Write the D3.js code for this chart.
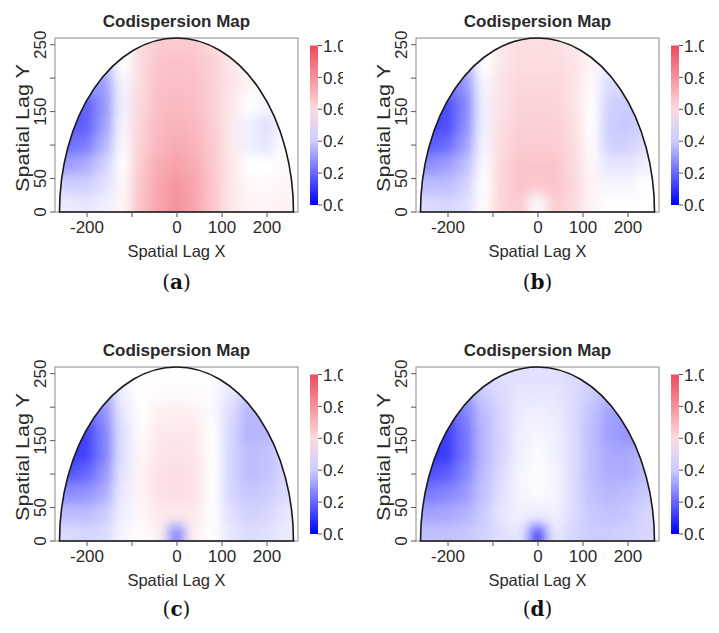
<!DOCTYPE html>
<html>
<head>
<meta charset="utf-8">
<script src="https://d3js.org/d3.v7.min.js"></script>
<style>
    body { margin: 0; background: #fff; }
    svg text { font-family: "Liberation Sans", Arial, sans-serif; fill: #2a2a2a; }
    .caption { font-family: "DejaVu Serif", serif; font-size: 20px; fill: #111; }
</style>
</head>
<body>
<svg id="fig" width="719" height="633"></svg>
<script>
// grid of codispersion estimates, rows from top (lag y = 250) to bottom (lag y = 10)
const lagX = [-240, -200, -160, -120, -80, -40, 0, 40, 80, 120, 160, 200, 240]
const lagY = [250, 220, 190, 160, 130, 100, 70, 40, 10]

const codispA = [
    [0.45, 0.45, 0.45, 0.50, 0.60, 0.64, 0.65, 0.64, 0.61, 0.56, 0.55, 0.55, 0.55],
    [0.35, 0.34, 0.37, 0.50, 0.60, 0.66, 0.67, 0.66, 0.63, 0.57, 0.54, 0.54, 0.54],
    [0.28, 0.28, 0.31, 0.48, 0.60, 0.67, 0.68, 0.67, 0.63, 0.58, 0.53, 0.52, 0.52],
    [0.19, 0.19, 0.29, 0.47, 0.61, 0.68, 0.69, 0.68, 0.63, 0.57, 0.50, 0.48, 0.50],
    [0.17, 0.19, 0.31, 0.48, 0.62, 0.69, 0.71, 0.69, 0.64, 0.56, 0.47, 0.44, 0.48],
    [0.22, 0.24, 0.35, 0.49, 0.63, 0.70, 0.73, 0.71, 0.65, 0.56, 0.47, 0.45, 0.50],
    [0.31, 0.34, 0.41, 0.50, 0.65, 0.73, 0.76, 0.73, 0.65, 0.57, 0.50, 0.50, 0.52],
    [0.41, 0.41, 0.44, 0.52, 0.66, 0.75, 0.79, 0.75, 0.66, 0.57, 0.52, 0.52, 0.53],
    [0.46, 0.45, 0.47, 0.53, 0.67, 0.75, 0.80, 0.75, 0.66, 0.57, 0.53, 0.53, 0.54]
]
const codispB = [
    [0.45, 0.45, 0.45, 0.50, 0.57, 0.59, 0.59, 0.59, 0.57, 0.53, 0.50, 0.48, 0.48],
    [0.31, 0.31, 0.35, 0.50, 0.57, 0.60, 0.60, 0.60, 0.58, 0.53, 0.47, 0.45, 0.45],
    [0.23, 0.23, 0.29, 0.48, 0.58, 0.61, 0.61, 0.61, 0.58, 0.51, 0.43, 0.42, 0.43],
    [0.15, 0.15, 0.26, 0.47, 0.58, 0.62, 0.62, 0.62, 0.58, 0.50, 0.41, 0.40, 0.42],
    [0.14, 0.15, 0.27, 0.47, 0.59, 0.63, 0.63, 0.63, 0.59, 0.50, 0.40, 0.39, 0.42],
    [0.18, 0.21, 0.31, 0.48, 0.60, 0.64, 0.64, 0.64, 0.60, 0.51, 0.41, 0.41, 0.44],
    [0.28, 0.31, 0.37, 0.49, 0.61, 0.66, 0.66, 0.66, 0.60, 0.52, 0.45, 0.45, 0.47],
    [0.37, 0.37, 0.41, 0.50, 0.62, 0.66, 0.65, 0.66, 0.61, 0.53, 0.48, 0.48, 0.50],
    [0.43, 0.42, 0.44, 0.51, 0.62, 0.64, 0.49, 0.64, 0.60, 0.53, 0.50, 0.50, 0.50]
]
const codispC = [
    [0.45, 0.45, 0.45, 0.48, 0.50, 0.50, 0.50, 0.50, 0.50, 0.48, 0.46, 0.45, 0.45],
    [0.28, 0.28, 0.34, 0.47, 0.50, 0.51, 0.52, 0.51, 0.49, 0.45, 0.40, 0.40, 0.40],
    [0.19, 0.19, 0.28, 0.45, 0.50, 0.54, 0.55, 0.54, 0.49, 0.43, 0.36, 0.36, 0.38],
    [0.12, 0.13, 0.25, 0.44, 0.51, 0.56, 0.57, 0.56, 0.50, 0.42, 0.35, 0.36, 0.40],
    [0.11, 0.13, 0.25, 0.44, 0.52, 0.57, 0.58, 0.57, 0.50, 0.42, 0.37, 0.38, 0.42],
    [0.17, 0.20, 0.29, 0.45, 0.53, 0.58, 0.59, 0.58, 0.50, 0.42, 0.37, 0.38, 0.42],
    [0.28, 0.29, 0.34, 0.46, 0.53, 0.58, 0.59, 0.58, 0.50, 0.42, 0.39, 0.40, 0.43],
    [0.37, 0.37, 0.40, 0.47, 0.52, 0.56, 0.56, 0.56, 0.50, 0.44, 0.41, 0.42, 0.45],
    [0.43, 0.42, 0.43, 0.48, 0.51, 0.54, 0.26, 0.54, 0.50, 0.45, 0.43, 0.44, 0.46]
]
const codispD = [
    [0.40, 0.40, 0.40, 0.42, 0.44, 0.44, 0.44, 0.44, 0.43, 0.42, 0.40, 0.40, 0.40],
    [0.26, 0.26, 0.31, 0.40, 0.43, 0.45, 0.45, 0.45, 0.43, 0.40, 0.36, 0.36, 0.36],
    [0.17, 0.17, 0.25, 0.37, 0.42, 0.46, 0.47, 0.46, 0.43, 0.38, 0.32, 0.30, 0.32],
    [0.11, 0.12, 0.23, 0.36, 0.42, 0.47, 0.48, 0.47, 0.43, 0.37, 0.31, 0.29, 0.33],
    [0.10, 0.12, 0.23, 0.36, 0.42, 0.47, 0.49, 0.47, 0.43, 0.37, 0.33, 0.33, 0.36],
    [0.16, 0.18, 0.26, 0.37, 0.43, 0.48, 0.49, 0.48, 0.43, 0.37, 0.34, 0.34, 0.37],
    [0.24, 0.26, 0.30, 0.38, 0.44, 0.48, 0.49, 0.48, 0.43, 0.38, 0.36, 0.37, 0.40],
    [0.32, 0.33, 0.35, 0.40, 0.45, 0.47, 0.46, 0.47, 0.43, 0.39, 0.38, 0.39, 0.42],
    [0.38, 0.38, 0.39, 0.41, 0.44, 0.45, 0.12, 0.45, 0.42, 0.40, 0.40, 0.41, 0.42]
]

const panelData = [codispA, codispB, codispC, codispD]
const captionLetters = ['a', 'b', 'c', 'd']

const xTicks = [-200, -100, 0, 100, 200]
const xTickLabels = ['-200', '', '0', '100', '200']
const yTicks = [0, 50, 100, 150, 200, 250]
const yTickLabels = ['0', '50', '', '150', '', '250']
const colorTicks = [0, 0.2, 0.4, 0.6, 0.8, 1.0]
const colorTickLabels = ['0.0', '0.2', '0.4', '0.6', '0.8', '1.0']

const lagRadius = 260
const cellW = 40, cellH = 30

// panel layout (same for all four, shifted by offsets)
const offsets = [[0, 0], [361, 0], [0, 329], [361, 329]]
const captionY = [289, 289, 616, 616]

const x = d3.scaleLinear().domain([-270, 270]).range([55, 298])
const y = d3.scaleLinear().domain([0, 260]).range([212, 38])
const cbY = d3.scaleLinear().domain([0, 1]).range([205, 45.5])
const color = d3.scaleLinear().domain([0, 0.5, 1]).range(['#0000ff', '#ffffff', '#f04a5a'])

const svg = d3.select('#fig')
const defs = svg.append('defs')

const semi = `M${x(-lagRadius)},${y(0)} A${x(lagRadius) - x(0)},${y(0) - y(lagRadius)} 0 0 1 ${x(lagRadius)},${y(0)} Z`

defs.append('clipPath').attr('id', 'semi').append('path').attr('d', semi)
defs.append('clipPath').attr('id', 'crop').append('rect')
    .attr('x', 0).attr('y', 0).attr('width', 343).attr('height', 300)

defs.append('filter').attr('id', 'soft')
    .attr('filterUnits', 'userSpaceOnUse')
    .attr('x', 0).attr('y', 0).attr('width', 360).attr('height', 280)
    .append('feGaussianBlur').attr('stdDeviation', 6)

const grad = defs.append('linearGradient').attr('id', 'cbgrad')
    .attr('x1', 0).attr('y1', 1).attr('x2', 0).attr('y2', 0)
colorTicks.forEach(t => {
    grad.append('stop').attr('offset', t).attr('stop-color', color(t))
})

panelData.forEach((grid, i) => {
    const g = svg.append('g')
        .attr('transform', `translate(${offsets[i][0]},${offsets[i][1]})`)
    const panel = g.append('g').attr('clip-path', 'url(#crop)')

    // flatten cells
    let cells = []
    grid.forEach((row, r) => {
        row.forEach((v, c) => {
            cells.push({cx: lagX[c], cy: lagY[r], v: v, r: r, c: c})
        })
    })

    // heat field: blurred cells, cut to the half disc
    panel.append('g')
        .attr('clip-path', 'url(#semi)')
        .append('g')
        .attr('filter', 'url(#soft)')
        .selectAll('rect')
        .data(cells)
        .enter().append('rect')
        .attr('x', d => x(d.cx - cellW / 2) - (d.c === 0 ? 30 : 0))
        .attr('width', d => x(d.cx + cellW / 2) - x(d.cx - cellW / 2) + (d.c === 0 || d.c === lagX.length - 1 ? 30 : 0) + 0.5)
        .attr('y', d => y(d.cy + cellH / 2) - (d.r === 0 ? 30 : 0))
        .attr('height', d => y(d.cy - cellH / 2) - y(d.cy + cellH / 2) + (d.r === 0 || d.r === lagY.length - 1 ? 30 : 0) + 0.5)
        .attr('fill', d => color(d.v))

    // plot box
    panel.append('rect')
        .attr('x', x(-270)).attr('y', y(260))
        .attr('width', x(270) - x(-270)).attr('height', y(0) - y(260))
        .attr('fill', 'none').attr('stroke', '#8a8a8a').attr('stroke-width', 1)

    panel.append('path')
        .attr('d', semi)
        .attr('fill', 'none')
        .attr('stroke', '#1a1a1a')
        .attr('stroke-width', 1.6)

    // x axis
    const xa = panel.append('g')
        .attr('transform', `translate(0,${y(0)})`)
        .call(d3.axisBottom(x).tickValues(xTicks).tickSize(5).tickPadding(4)
            .tickFormat((d, k) => xTickLabels[k]))
    xa.select('.domain').remove()
    xa.selectAll('line').attr('stroke', '#555')
    xa.selectAll('text').attr('font-size', 17).attr('font-family', null).attr('fill', '#2a2a2a')

    // y axis (rotated labels like base R)
    panel.selectAll('.ytick').data(yTicks).enter().append('line')
        .attr('x1', x(-270)).attr('x2', x(-270) - 5)
        .attr('y1', d => y(d)).attr('y2', d => y(d))
        .attr('stroke', '#555')
    panel.selectAll('.ylab').data(yTicks).enter().append('text')
        .attr('transform', d => `translate(46,${y(d)}) rotate(-90)`)
        .attr('text-anchor', 'middle')
        .attr('font-size', 17)
        .text((d, k) => yTickLabels[k])

    panel.append('text')
        .attr('x', x(0)).attr('y', 27)
        .attr('text-anchor', 'middle')
        .attr('font-size', 17).attr('font-weight', 'bold')
        .text('Codispersion Map')

    panel.append('text')
        .attr('x', x(0)).attr('y', 257)
        .attr('text-anchor', 'middle')
        .attr('font-size', 16.5)
        .text('Spatial Lag X')

    panel.append('text')
        .attr('transform', `translate(29,${(y(0) + y(260)) / 2 + 3}) rotate(-90)`)
        .attr('text-anchor', 'middle')
        .attr('font-size', 17.5)
        .attr('textLength', 128)
        .attr('lengthAdjust', 'spacingAndGlyphs')
        .text('Spatial Lag Y')

    // colour key
    panel.append('rect')
        .attr('x', 310).attr('y', cbY(1))
        .attr('width', 8).attr('height', cbY(0) - cbY(1))
        .attr('fill', 'url(#cbgrad)')
    panel.selectAll('.cbtick').data(colorTicks).enter().append('line')
        .attr('x1', 318).attr('x2', 322)
        .attr('y1', d => cbY(d)).attr('y2', d => cbY(d))
        .attr('stroke', '#555')
    panel.selectAll('.cblab').data(colorTicks).enter().append('text')
        .attr('x', 323).attr('y', d => cbY(d))
        .attr('dy', '0.36em')
        .attr('font-size', 17)
        .text((d, k) => colorTickLabels[k])

    // caption
    const cap = svg.append('text')
        .attr('class', 'caption')
        .attr('x', offsets[i][0] + x(0))
        .attr('y', captionY[i])
        .attr('text-anchor', 'middle')
    cap.append('tspan').text('(')
    cap.append('tspan').attr('font-weight', 'bold').text(captionLetters[i])
    cap.append('tspan').text(')')
})
</script>
</body>
</html>
